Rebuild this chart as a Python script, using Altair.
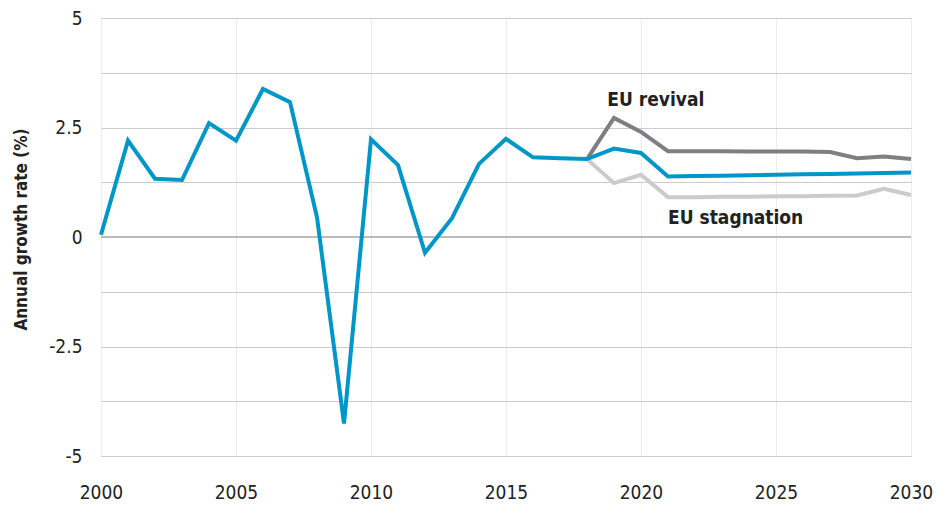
import altair as alt
import pandas as pd

years_base = list(range(2000, 2031))
base_vals = [0.05, 2.2, 1.33, 1.3, 2.6, 2.2, 3.38, 3.08, 0.45, -4.26, 2.23,
             1.64, -0.36, 0.43, 1.67, 2.24, 1.82, 1.80, 1.78, 2.02, 1.92,
             1.38, 1.39, 1.40, 1.41, 1.42, 1.43, 1.44, 1.45, 1.46, 1.47]

years_scen = list(range(2018, 2031))
revival_vals = [1.78, 2.72, 2.40, 1.96, 1.96, 1.96, 1.95, 1.95, 1.95, 1.94, 1.80, 1.84, 1.78]
stagnation_vals = [1.78, 1.23, 1.42, 0.91, 0.91, 0.92, 0.92, 0.93, 0.93, 0.94, 0.95, 1.10, 0.96]

label_texts = ["EU revival", "EU stagnation"]
label_years = [2018.75, 2021.0]
label_vals = [3.13, 0.43]

FONT = "DejaVu Sans Condensed, Liberation Sans Narrow, Liberation Sans, sans-serif"

rows = []
for y, v in zip(years_scen, revival_vals):
    rows.append({"year": y, "value": v, "series": "EU revival"})
for y, v in zip(years_scen, stagnation_vals):
    rows.append({"year": y, "value": v, "series": "EU stagnation"})
for y, v in zip(years_base, base_vals):
    rows.append({"year": y, "value": v, "series": "Baseline"})
df = pd.DataFrame(rows)

labels_df = pd.DataFrame({"text": label_texts, "year": label_years, "value": label_vals})

x_scale = alt.Scale(domain=[2000, 2030], nice=False, zero=False)
y_scale = alt.Scale(domain=[-5, 5], nice=False)

x_axis = alt.Axis(values=[2000, 2005, 2010, 2015, 2020, 2025, 2030], format="d",
                  title=None, grid=True, gridColor="#ececec", gridWidth=1,
                  domain=False, ticks=False, labelPadding=27, labelFontSize=19,
                  labelFlush=False, labelOverlap=False,
                  labelFont=FONT, labelColor="#222222")
y_axis = alt.Axis(values=[-5, -3.75, -2.5, -1.25, 0, 1.25, 2.5, 3.75, 5],
                  labelExpr="datum.value % 2.5 == 0 ? '' + datum.value : ''",
                  grid=True, gridColor="#cccccc", gridWidth=1,
                  domain=False, ticks=False, labelPadding=19, labelFontSize=19,
                  labelFlush=False, labelOverlap=False,
                  labelFont=FONT, labelColor="#222222",
                  title="Annual growth rate (%)", titleFont=FONT, titleFontSize=17,
                  titleFontWeight="bold", titleColor="#222222",
                  titleX=-80, titleY=211, titleAngle=-90, titleBaseline="middle",
                  titleAlign="center")

zero = alt.Chart(pd.DataFrame({"v": [0]})).mark_rule(color="#bbbbbb", strokeWidth=2).encode(
    y=alt.Y("v:Q", scale=y_scale, axis=y_axis)
)

def series_line(name, color):
    return alt.Chart(df[df.series == name]).mark_line(strokeWidth=4, color=color).encode(
        x=alt.X("year:Q", scale=x_scale, axis=x_axis),
        y=alt.Y("value:Q", scale=y_scale),
    )

texts = alt.Chart(labels_df).mark_text(align="left", baseline="middle", font=FONT,
                                        fontSize=19, fontWeight="bold", color="#222222").encode(
    x=alt.X("year:Q", scale=x_scale),
    y=alt.Y("value:Q", scale=y_scale),
    text="text:N",
)

chart = alt.layer(
    zero,
    series_line("EU revival", "#7f7f81"),
    series_line("EU stagnation", "#cbcbcc"),
    series_line("Baseline", "#0096c8"),
    texts,
).properties(
    width=810, height=438,
    autosize=alt.AutoSizeParams(type="none"),
    padding={"left": 93, "top": 10, "right": 27, "bottom": 54},
).configure_view(stroke="#cccccc", strokeWidth=1).configure(background="white")

chart.save("out.html", embed_options={"renderer": "svg", "actions": False})
